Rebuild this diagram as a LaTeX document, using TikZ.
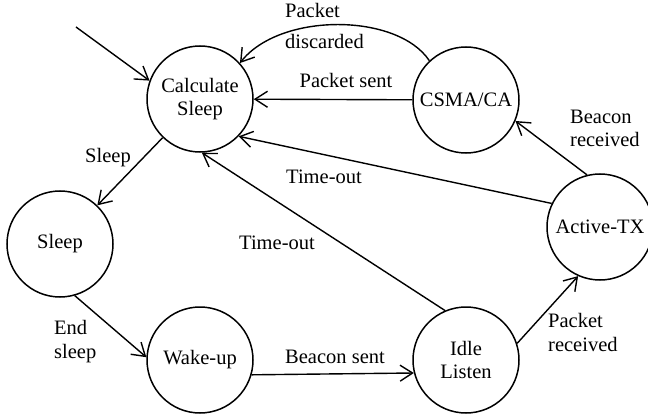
\documentclass[tikz,border=0pt]{standalone}
\usepackage{fontspec}
\setmainfont{Liberation Serif}
\usetikzlibrary{arrows.meta}
\newcommand\dfsz{\fontsize{20.5}{23.5}\selectfont}
\begin{document}
\begin{tikzpicture}[x=1pt,y=-1pt,
  state/.style={circle,draw,line width=1.5pt,minimum size=106pt,inner sep=0pt,align=center,font=\dfsz},
  tr/.style={line width=1.4pt,-{Straight Barb[length=12.5pt,width=16pt,line width=1.4pt]}},
  lbl/.style={font=\dfsz,inner sep=0pt},
  mlbl/.style={font=\dfsz,inner sep=0pt,align=left,anchor=west}]
\useasboundingbox (0,0) rectangle (648,417);
\node[state] (cs) at (200,99) {Calculate\\Sleep};
\node[state] (csma) at (466,100) {CSMA/CA};
\node[state] (at) at (600,227) {Active-TX};
\node[state] (sl) at (60,244) {Sleep};
\node[state] (wu) at (200,360) {Wake-up};
\node[state] (il) at (466,360) {Idle\\Listen};
\coordinate (init) at (76,27);

\draw[tr] (init) -- (cs.160);
\draw[tr] (csma.133) .. controls +(-32,-48) and +(40,-51) .. (cs.42);
\draw[tr] (csma) -- (cs);
\draw[tr] (at.154) -- (cs.-44);
\draw[tr] (il.113) -- (cs.-88);
\draw[tr] (at.104) -- (csma.-23);
\draw[tr] (cs) -- (sl);
\draw[tr] (sl.-74) -- (wu.177);
\draw[tr] (wu.-16) -- (il.-166);
\draw[tr] (il.18) -- (at.-114);

\node[mlbl] (l1) at (285,25.5) {Packet\\[7.5pt]discarded};
\node[lbl,anchor=base] (l2) at (346,88) {Packet sent};
\node[lbl,anchor=base] (l3) at (324,183) {Time-out};
\node[lbl,anchor=base] (l4) at (277,249) {Time-out};
\node[mlbl] (l5) at (570,128.5) {Beacon\\received};
\node[lbl,anchor=base] (l6) at (108,163) {Sleep};
\node[mlbl] (l7) at (54,341.7) {End\\sleep};
\node[lbl,anchor=base] (l8) at (335,363) {Beacon sent};
\node[mlbl] (l9) at (548,332.5) {Packet\\received};
\end{tikzpicture}
\end{document}
